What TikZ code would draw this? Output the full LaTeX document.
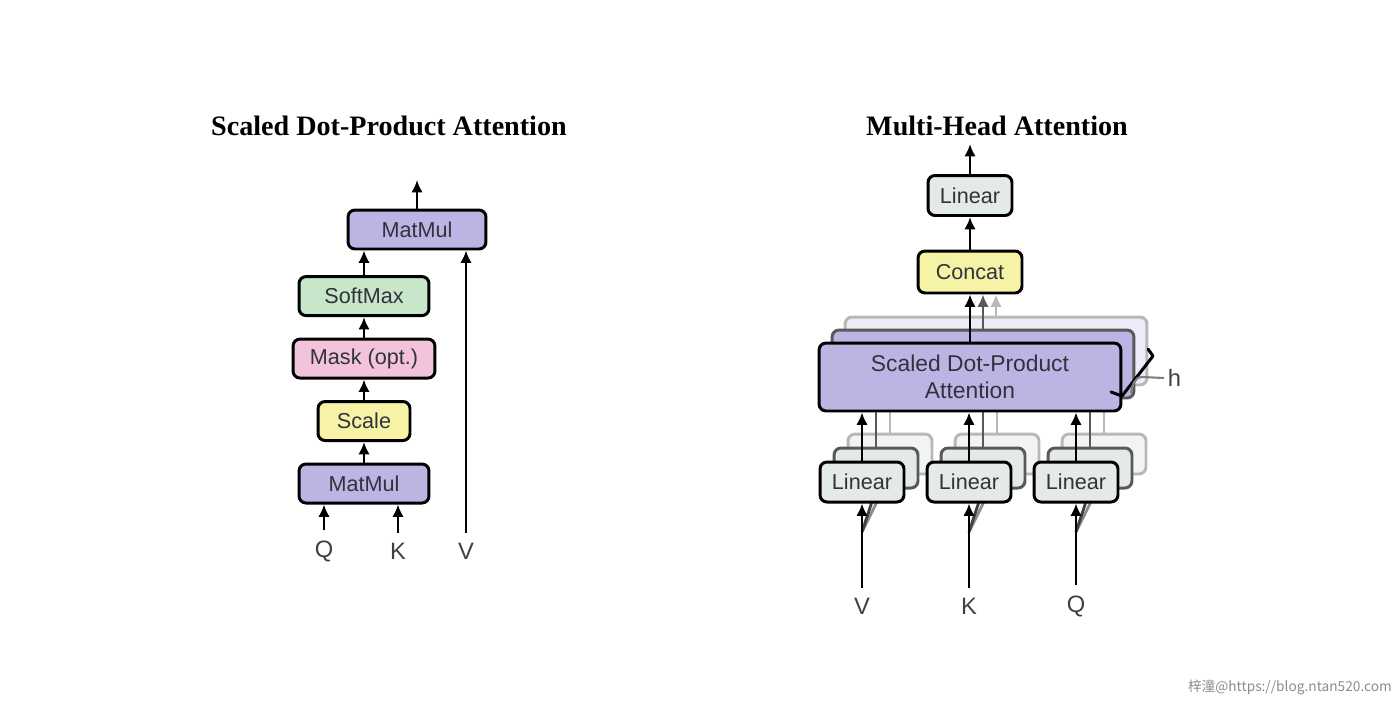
\documentclass[tikz,border=0pt]{standalone}
\usepackage{fontspec}
\setmainfont{Liberation Serif}
\newfontfamily\boxfont{Liberation Sans}
\newfontfamily\cjk{Noto Sans CJK SC}
\usetikzlibrary{arrows.meta,positioning}

\definecolor{mmpurple}{RGB}{189,180,228}
\definecolor{smgreen}{RGB}{200,230,201}
\definecolor{mkpink}{RGB}{243,194,219}
\definecolor{scyellow}{RGB}{246,243,166}
\definecolor{lngray}{RGB}{228,234,230}
\definecolor{txtdark}{RGB}{50,50,60}

\tikzset{
    box/.style={draw, line width=1.7pt, rounded corners=4pt, inner sep=0pt,
        minimum height=0.78cm, text=txtdark,
        font=\boxfont\fontsize{12.3}{14}\selectfont},
    matmulbox/.style={box, fill=mmpurple, minimum width=2.6cm},
    softmaxbox/.style={box, fill=smgreen, minimum width=2.6cm},
    maskbox/.style={box, fill=mkpink, minimum width=2.84cm},
    scalebox/.style={box, fill=scyellow, minimum width=1.84cm},
    linearbox/.style={box, fill=lngray, minimum width=1.68cm, minimum height=0.8cm},
    concatbox/.style={box, fill=scyellow, minimum width=2.08cm, minimum height=0.84cm},
    attnbox/.style={box, fill=mmpurple, minimum width=6.04cm, minimum height=1.36cm,
        align=center, font=\boxfont\fontsize{13}{15.5}\selectfont},
    layer two/.style={draw=black!65},
    layer three/.style={draw=black!28, fill=mmpurple!25},
    lin two/.style={linearbox, draw=black!65},
    lin three/.style={linearbox, draw=black!28, fill=lngray!50},
    titletext/.style={font=\bfseries\fontsize{16}{19}\selectfont},
    lbl/.style={inner sep=5.5pt, text=black!75, font=\boxfont\fontsize{13.5}{16}\selectfont},
    arr/.style={->, line width=1.6pt},
    ghost two/.style={arr, draw=black!65},
    ghost three/.style={arr, draw=black!28},
    wedge/.style={line width=1.6pt},
}

\begin{document}
\begin{tikzpicture}[x=0.02cm, y=-0.02cm, >={Latex[length=7pt,width=6.5pt]}, node distance=0.41cm]
    \useasboundingbox (0,0) rectangle (1400,704);

    % scaled dot-product attention
    \node[titletext] (t1) at (389,126) {Scaled Dot-Product Attention};
    \node[matmulbox] (mm1) at (364,483.5) {MatMul};
    \node[scalebox] (sc) [above=of mm1] {Scale};
    \node[maskbox] (mk) [above=of sc] {Mask (opt.)};
    \node[softmaxbox] (sm) [above=of mk] {SoftMax};
    \node[matmulbox, minimum width=2.76cm] (mm2) at (417,229.5) {MatMul};
    \coordinate (out1) at (417,180);

    \node[lbl] (q1) at (324,551) {Q};
    \node[lbl] (k1) at (398,551) {K};
    \node[lbl] (v1) at (466,551) {V};

    \draw[arr] (mm1) -- (sc);
    \draw[arr] (sc) -- (mk);
    \draw[arr] (mk) -- (sm);
    \draw[arr] (sm.north) -- (sm.north |- mm2.south);
    \draw[arr] (mm2.north) -- (out1);
    \draw[arr] (q1.north) -- (q1.north |- mm1.south);
    \draw[arr] (k1.north) -- (k1.north |- mm1.south);
    \draw[arr] (v1.north) -- (v1.north |- mm2.south);

    % multi-head attention
    \node[titletext] (t2) at (997,126) {Multi-Head Attention};
    \node[linearbox] (lin0) at (970,195.5) {Linear};
    \node[concatbox] (cc) at (970,272) {Concat};
    \coordinate (out2) at (970,144);

    % stacked heads, back to front
    \node[attnbox, layer three] (at3) at (996,351) {};
    \node[attnbox, layer two] (at2) at (983,364) {};
    \foreach \n/\x in {v/862, k/969, q/1076} {
        \node[lin three] (lin\n3) at (\x+28,454) {};
        \node[lin two] (lin\n2) at (\x+14,468) {};
        \coordinate (split\n) at (\x,532);
        \draw[wedge, black!45] (split\n) -- (lin\n3.south);
        \draw[wedge, black!75] (split\n) -- (lin\n2.south);
        \draw[ghost three] (lin\n3.north) -- (lin\n3.north |- at3.south);
        \draw[ghost two] (lin\n2.north) -- (lin\n2.north |- at2.south);
    }
    \node[attnbox] (at) at (970,377) {Scaled Dot-Product\\Attention};

    \foreach \n/\x/\t in {v/862/V, k/969/K, q/1076/Q} {
        \node[linearbox] (lin\n) at (\x,482) {Linear};
        \node[lbl] (in\n) at (\x,606) {\t};
        \draw[arr] (in\n.north) -- (lin\n.south);
        \draw[arr] (lin\n.north) -- (lin\n.north |- at.south);
    }

    \draw[arr] (at.north) -- (cc.south);
    \draw[ghost two] (at2.north) -- (at2.north |- cc.south);
    \draw[ghost three] (at3.north) -- (at3.north |- cc.south);
    \draw[arr] (cc) -- (lin0);
    \draw[arr] (lin0.north) -- (out2);

    % h copies
    \node[lbl, inner sep=2pt, anchor=west] (hh) at (1164,378) {h};
    \draw[line width=1.7pt, line join=round, line cap=round]
        (1148,349) -- (1153,356) -- (1122,396) -- (1111,392);
    \draw[black!50, line width=1.2pt] (1131,393) to[out=80, in=180] (1142,377) -- (hh.west);

    \node[text=black!45, anchor=east, font=\cjk\fontsize{7.8}{9}\selectfont] (wm)
        at (1398,687) {梓潼@https://blog.ntan520.com};
\end{tikzpicture}
\end{document}
